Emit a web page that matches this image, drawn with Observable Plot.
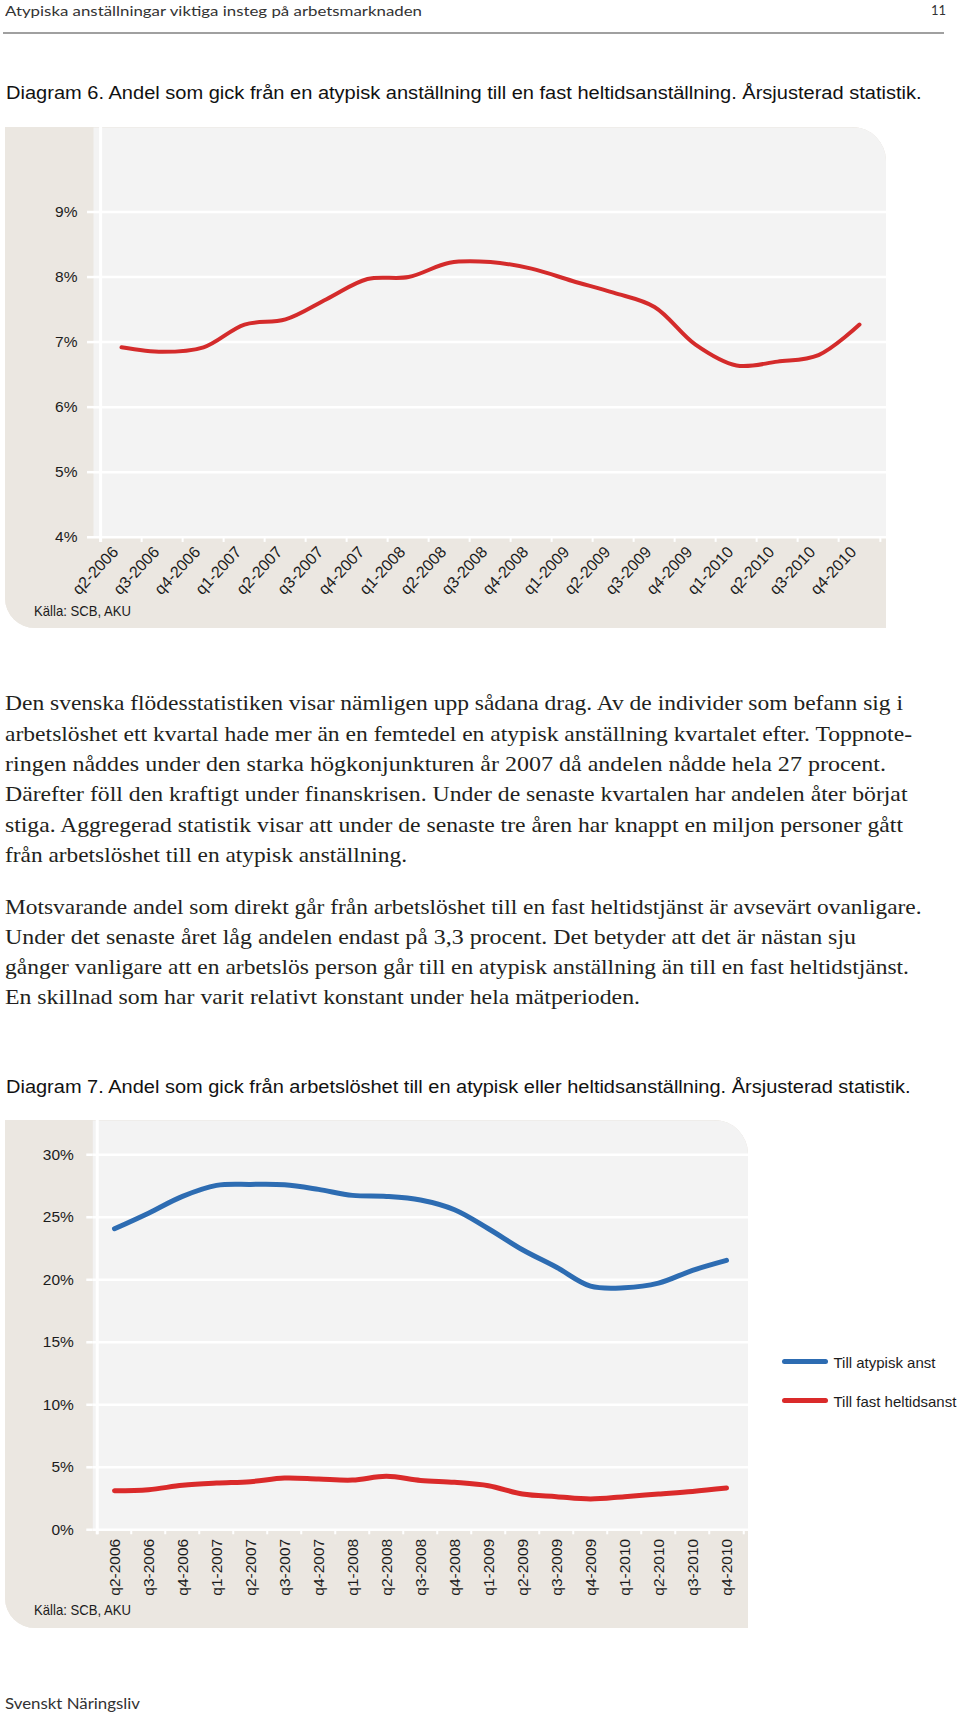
<!DOCTYPE html>
<html><head><meta charset="utf-8">
<script src="https://cdn.jsdelivr.net/npm/d3@7"></script>
<script src="https://cdn.jsdelivr.net/npm/@observablehq/plot@0.6"></script>
<style>
html,body{margin:0;padding:0;background:#fff}
body{width:960px;height:1716px;position:relative;overflow:hidden}
.t{position:absolute;white-space:nowrap;line-height:1;transform-origin:0 0;display:inline-block}
.panel{position:absolute;overflow:hidden}
.panel svg{display:block}
</style></head><body>
<script>
// ---- data ----
const quarters = ["q2-2006","q3-2006","q4-2006","q1-2007","q2-2007","q3-2007","q4-2007","q1-2008","q2-2008","q3-2008","q4-2008","q1-2009","q2-2009","q3-2009","q4-2009","q1-2010","q2-2010","q3-2010","q4-2010"];
const atypToFast = [6.92, 6.85, 6.92, 7.27, 7.35, 7.66, 7.97, 8.0, 8.22, 8.23, 8.13, 7.94, 7.76, 7.54, 6.96, 6.64, 6.70, 6.80, 7.27];
const tillAtypisk = [24.08, 25.33, 26.67, 27.55, 27.63, 27.6, 27.23, 26.75, 26.67, 26.38, 25.6, 24.08, 22.4, 21.0, 19.49, 19.36, 19.73, 20.75, 21.55];
const tillFast = [3.13, 3.21, 3.56, 3.74, 3.85, 4.14, 4.06, 3.98, 4.28, 3.95, 3.80, 3.53, 2.86, 2.65, 2.46, 2.65, 2.86, 3.07, 3.34];
const yTicks6 = [4, 5, 6, 7, 8, 9];
const yTicks7 = [0, 5, 10, 15, 20, 25, 30];
const seriesNames = ["Till atypisk anst", "Till fast heltidsanst"];

const headerText = "Atypiska anställningar viktiga insteg på arbetsmarknaden";
const pageNumber = "11";
const title6 = "Diagram 6. Andel som gick från en atypisk anställning till en fast heltidsanställning. Årsjusterad statistik.";
const title7 = "Diagram 7. Andel som gick från arbetslöshet till en atypisk eller heltidsanställning. Årsjusterad statistik.";
const sourceText = "Källa: SCB, AKU";
const footerText = "Svenskt Näringsliv";
const para1 = [
 "Den svenska flödesstatistiken visar nämligen upp sådana drag. Av de individer som befann sig i",
 "arbetslöshet ett kvartal hade mer än en femtedel en atypisk anställning kvartalet efter. Toppnote-",
 "ringen nåddes under den starka högkonjunkturen år 2007 då andelen nådde hela 27 procent.",
 "Därefter föll den kraftigt under finanskrisen. Under de senaste kvartalen har andelen åter börjat",
 "stiga. Aggregerad statistik visar att under de senaste tre åren har knappt en miljon personer gått",
 "från arbetslöshet till en atypisk anställning."
];
const para2 = [
 "Motsvarande andel som direkt går från arbetslöshet till en fast heltidstjänst är avsevärt ovanligare.",
 "Under det senaste året låg andelen endast på 3,3 procent. Det betyder att det är nästan sju",
 "gånger vanligare att en arbetslös person går till en atypisk anställning än till en fast heltidstjänst.",
 "En skillnad som har varit relativt konstant under hela mätperioden."
];

// ---- styling ----
const BEIGE = "#ebe7e1", PLOTBG = "#f3f3f3", RED1 = "#d42b2b", RED2 = "#da2a2a", BLUE = "#2d6cb2", INK = "#1c1c1c";
const SANS = "'Liberation Sans', Arial, sans-serif";
const SERIF = "'Liberation Serif', 'Times New Roman', serif";
const HUM = "Lato, 'Open Sans', sans-serif";

function addText(str, {left, baseline, size, family, color = INK, width = null, base = 0.84}) {
  const el = document.createElement("div");
  el.className = "t";
  el.textContent = str;
  el.style.left = left + "px";
  el.style.top = (baseline - base * size) + "px";
  el.style.fontSize = size + "px";
  el.style.fontFamily = family;
  el.style.color = color;
  document.body.appendChild(el);
  if (width) {
    const w = el.getBoundingClientRect().width;
    el.style.transform = `scaleX(${width / w})`;
  }
  return el;
}

// header
addText(headerText, {left: 5, baseline: 16, size: 14, family: HUM, color: "#333", width: 417, base: 0.887});
addText(pageNumber, {left: 931, baseline: 16, size: 13, family: HUM, color: "#333", base: 0.887});
const rule = document.createElement("div");
Object.assign(rule.style, {position: "absolute", left: "3px", top: "32px", width: "941px", height: "2px", background: "#a0a0a0"});
document.body.appendChild(rule);

// titles
addText(title6, {left: 6, baseline: 100, size: 17.5, family: SANS, color: "#111", width: 915.6, base: 0.8465});
addText(title7, {left: 6, baseline: 1094, size: 17.5, family: SANS, color: "#111", width: 904.6, base: 0.8465});

// body text
const p1Widths = [898, 907, 881, 902.5, 898, 402];
para1.forEach((s, i) => addText(s, {left: 5, baseline: 710.7 + 30.4 * i, size: 21, family: SERIF, color: "#231f20", width: p1Widths[i], base: 0.8375}));
const p2Widths = [916.6, 851, 904, 635];
para2.forEach((s, i) => addText(s, {left: 5, baseline: 915 + 30 * i, size: 21, family: SERIF, color: "#231f20", width: p2Widths[i], base: 0.8375}));

// footer
addText(footerText, {left: 5, baseline: 1709, size: 15, family: HUM, color: "#333", width: 135, base: 0.887});

function panel(left, top, w, h) {
  const d = document.createElement("div");
  d.className = "panel";
  Object.assign(d.style, {left: left + "px", top: top + "px", width: w + "px", height: h + "px", borderRadius: "0 34px 0 30px", background: BEIGE});
  document.body.appendChild(d);
  return d;
}

// ---- Diagram 6 ----
{
  const W = 881, H = 501, ML = 88, MB = 91.3;
  const bw = (W - ML) / quarters.length;
  const data = quarters.map((q, i) => ({q, v: atypToFast[i]}));
  const chart = Plot.plot({
    width: W, height: H,
    marginLeft: ML, marginRight: 0, marginTop: 0, marginBottom: MB,
    style: {background: BEIGE, fontFamily: SANS, color: INK, overflow: "visible"},
    x: {type: "point", domain: quarters, padding: 0.5},
    y: {domain: [4, 10.3]},
    marks: [
      Plot.frame({fill: PLOTBG, stroke: null}),
      Plot.gridY(yTicks6, {stroke: "white", strokeOpacity: 1, strokeWidth: 2.5}),
      Plot.ruleX([quarters[0]], {dx: -bw / 2, stroke: "white", strokeWidth: 3, y1: 3.92, y2: 10.3}),
      Plot.ruleX(quarters, {dx: -bw / 2, y1: 4, y2: 3.92, stroke: "white", strokeWidth: 2}),
      Plot.ruleX([quarters[quarters.length - 1]], {dx: bw / 2, y1: 4, y2: 3.92, stroke: "white", strokeWidth: 2}),
      Plot.axisY(yTicks6, {tickSize: 6, tickPadding: 10, stroke: "white", strokeWidth: 2.5, fill: INK, fontSize: 15.5, tickFormat: d => d + "%", label: null}),
      Plot.axisX(quarters, {tickSize: 0, tickPadding: 12, tickRotate: -47, fontSize: 16, fill: INK, dx: -6, label: null}),
      Plot.line(data, {x: "q", y: "v", stroke: RED1, strokeWidth: 4, curve: "catmull-rom", strokeLinecap: "round"})
    ]
  });
  const p = panel(5, 127, W, H);
  p.appendChild(chart);
}
addText(sourceText, {left: 34, baseline: 616, size: 15, family: SANS, color: INK, width: 97, base: 0.8465});

// ---- Diagram 7 ----
{
  const W = 743, H = 508, ML = 87.3, MB = 98.7;
  const bw = (W - ML) / quarters.length;
  const data = [];
  quarters.forEach((q, i) => data.push({q, v: tillAtypisk[i], s: seriesNames[0]}));
  quarters.forEach((q, i) => data.push({q, v: tillFast[i], s: seriesNames[1]}));
  const chart = Plot.plot({
    width: W, height: H,
    marginLeft: ML, marginRight: 0, marginTop: 0, marginBottom: MB,
    style: {background: BEIGE, fontFamily: SANS, color: INK, overflow: "visible"},
    x: {type: "point", domain: quarters, padding: 0.5},
    y: {domain: [0, 32.74]},
    color: {domain: seriesNames, range: [BLUE, RED2]},
    marks: [
      Plot.frame({fill: PLOTBG, stroke: null}),
      Plot.gridY(yTicks7, {stroke: "white", strokeOpacity: 1, strokeWidth: 2.5}),
      Plot.ruleX([quarters[0]], {dx: -bw / 2, stroke: "white", strokeWidth: 3, y1: -0.4, y2: 32.74}),
      Plot.ruleX(quarters, {dx: -bw / 2, y1: 0, y2: -0.4, stroke: "white", strokeWidth: 2}),
      Plot.ruleX([quarters[quarters.length - 1]], {dx: bw / 2, y1: 0, y2: -0.4, stroke: "white", strokeWidth: 2}),
      Plot.axisY(yTicks7, {tickSize: 6, tickPadding: 13, stroke: "white", strokeWidth: 2.5, fill: INK, fontSize: 15.5, tickFormat: d => d + "%", label: null}),
      Plot.axisX(quarters, {tickSize: 0, tickPadding: 9, tickRotate: -90, fontSize: 15.5, fill: INK, dx: 1, label: null}),
      Plot.line(data, {x: "q", y: "v", z: "s", stroke: "s", strokeWidth: 5, curve: "catmull-rom", strokeLinecap: "round"})
    ]
  });
  const p = panel(5, 1120, W, H);
  p.appendChild(chart);

  // legend
  const cs = chart.scale("color");
  seriesNames.forEach((name, i) => {
    const y = 1361.7 + 39 * i;
    const sw = document.createElement("div");
    Object.assign(sw.style, {position: "absolute", left: "782px", top: (y - 2.5) + "px", width: "46px", height: "5px", borderRadius: "3px", background: cs.apply(name)});
    document.body.appendChild(sw);
    addText(name, {left: 833.5, baseline: y + 5.5, size: 15, family: SANS, color: INK, base: 0.8465});
  });
}
addText(sourceText, {left: 34, baseline: 1615, size: 15, family: SANS, color: INK, width: 97, base: 0.8465});
</script>
</body></html>
